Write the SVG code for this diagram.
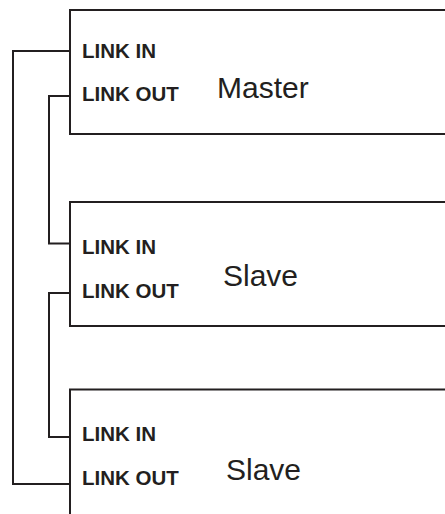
<svg xmlns="http://www.w3.org/2000/svg" width="445" height="514" viewBox="0 0 445 514">
<style>
.box{fill:#fff;stroke:#231f20;stroke-width:2}
.wire{fill:none;stroke:#231f20;stroke-width:2}
.port{font-family:"Liberation Sans",Arial,sans-serif;font-weight:bold;font-size:20.5px;fill:#231f20}
.name{font-family:"Liberation Sans",Arial,sans-serif;font-size:30px;fill:#231f20}
</style>
<rect width="445" height="514" fill="#fff"/>
<g id="master">
<rect class="box" x="70" y="10" width="400" height="124"/>
<text class="port" x="82" y="57.5">LINK IN</text>
<text class="port" x="82" y="101">LINK OUT</text>
<text class="name" x="217" y="98">Master</text>
</g>
<g id="slave1">
<rect class="box" x="70" y="202" width="400" height="124"/>
<text class="port" x="82" y="254">LINK IN</text>
<text class="port" x="82" y="297.5">LINK OUT</text>
<text class="name" x="223" y="286">Slave</text>
</g>
<g id="slave2">
<rect class="box" x="70" y="389.5" width="400" height="140"/>
<text class="port" x="82" y="441">LINK IN</text>
<text class="port" x="82" y="484.5">LINK OUT</text>
<text class="name" x="226" y="480">Slave</text>
</g>
<g id="connectors">
<path class="wire" d="M70 51 H13 V484 H70"/>
<path class="wire" d="M70 96 H49 V243.5 H70"/>
<path class="wire" d="M70 293 H49 V437 H70"/>
</g>
</svg>
